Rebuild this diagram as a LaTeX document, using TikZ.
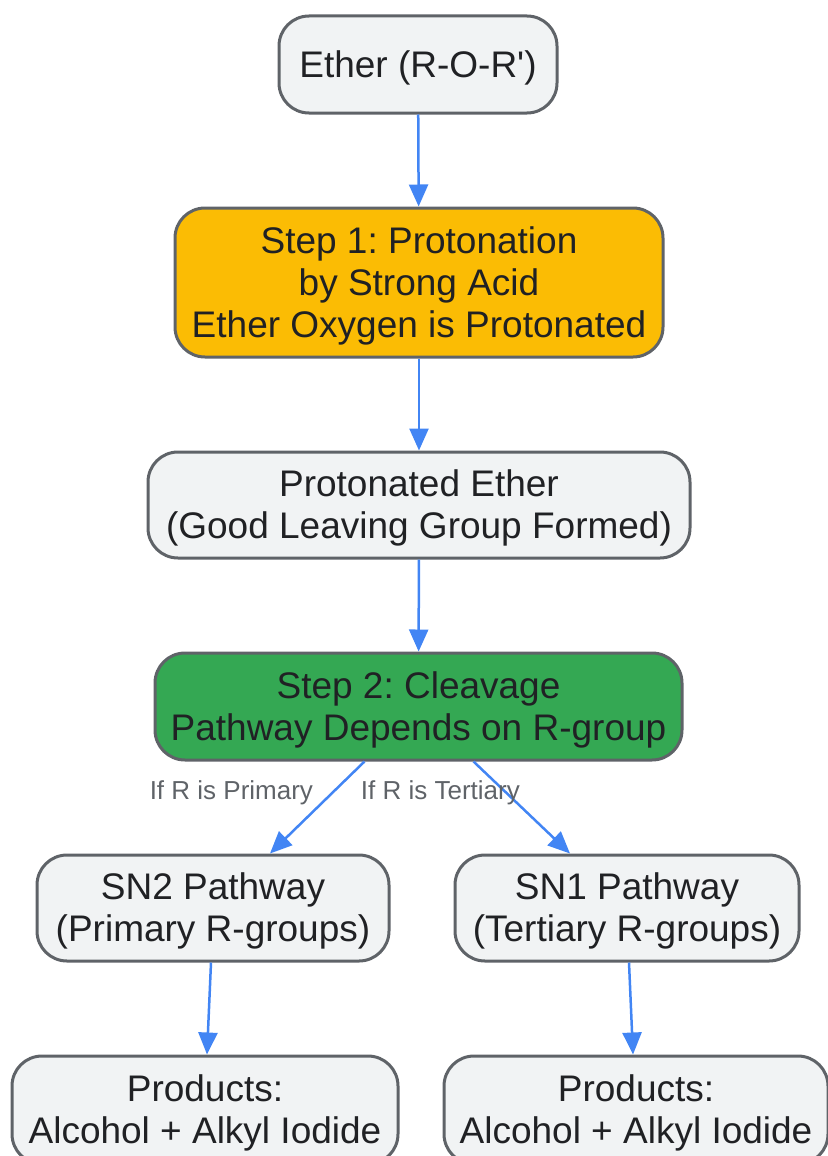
\documentclass[tikz,border=0pt]{standalone}
\usepackage{fontspec}
\setmainfont{Liberation Sans}
\usetikzlibrary{arrows.meta, calc}

\definecolor{boxgray}{HTML}{F1F3F4}
\definecolor{rimgray}{HTML}{5F6368}
\definecolor{stepgold}{HTML}{FBBC04}
\definecolor{stepgreen}{HTML}{34A853}
\definecolor{flowblue}{HTML}{4285F4}
\definecolor{inkdark}{HTML}{202124}

\frenchspacing

\begin{document}
\begin{tikzpicture}[x=1pt, y=-1pt,
    box/.style={draw=rimgray, line width=3pt, rounded corners=30pt, fill=boxgray,
        text=inkdark, align=center, inner sep=0pt, font=\fontsize{37}{42}\selectfont},
    oneline/.style={text height=33.5pt},
    twolines/.style={text height=75.5pt},
    threelines/.style={text height=117.5pt},
    flow/.style={-{Triangle[length=22pt, width=19pt]}, draw=flowblue, line width=2.5pt},
    lbl/.style={text=rimgray, inner sep=0pt, font=\fontsize{26}{30}\selectfont}]

        \useasboundingbox (0,0) rectangle (827,1156);

        \node[box, oneline, minimum width=278pt, minimum height=97pt] (ether) at (418,64.5) {Ether (R-O-R\textquotesingle)};
        \node[box, threelines, fill=stepgold, minimum width=488pt, minimum height=149pt] (step1) at (419,282.5)
            {Step 1: Protonation\\by Strong Acid\\Ether Oxygen is Protonated};
        \node[box, twolines, minimum width=542pt, minimum height=106pt] (protonated) at (419,505)
            {Protonated Ether\\(Good Leaving Group Formed)};
        \node[box, twolines, fill=stepgreen, minimum width=527pt, minimum height=107pt] (step2) at (418.5,706.5)
            {Step 2: Cleavage\\Pathway Depends on R-group};

        % pathways
        \node[box, twolines, minimum width=352pt, minimum height=106pt] (sn2) at (213,908) {SN2 Pathway\\(Primary R-groups)};
        \node[box, twolines, minimum width=344pt, minimum height=106pt] (sn1) at (627,908) {SN1 Pathway\\(Tertiary R-groups)};

        % products
        \node[box, twolines, minimum width=386pt, minimum height=108pt] (prodA) at (205,1110) {Products:\\Alcohol + Alkyl Iodide};
        \node[box, twolines, minimum width=384pt, minimum height=108pt] (prodB) at (636,1110) {Products:\\Alcohol + Alkyl Iodide};

        \draw[flow] (ether) -- (step1);
        \draw[flow] (step1) -- (protonated);
        \draw[flow] (protonated) -- (step2);
        \draw[flow] ([xshift=-54pt]step2.south) -- node[lbl, pos=0.34, xshift=-101pt] {If R is Primary} ([xshift=57pt]sn2.north);
        \draw[flow] ([xshift=55pt]step2.south) -- node[lbl, pos=0.34, xshift=-66pt] {If R is Tertiary} ([xshift=-57pt]sn1.north);
        \draw[flow] ([xshift=-2pt]sn2.south) -- ([xshift=2pt]prodA.north);
        \draw[flow] ([xshift=2pt]sn1.south) -- ([xshift=-3pt]prodB.north);

    \end{tikzpicture}
\end{document}
